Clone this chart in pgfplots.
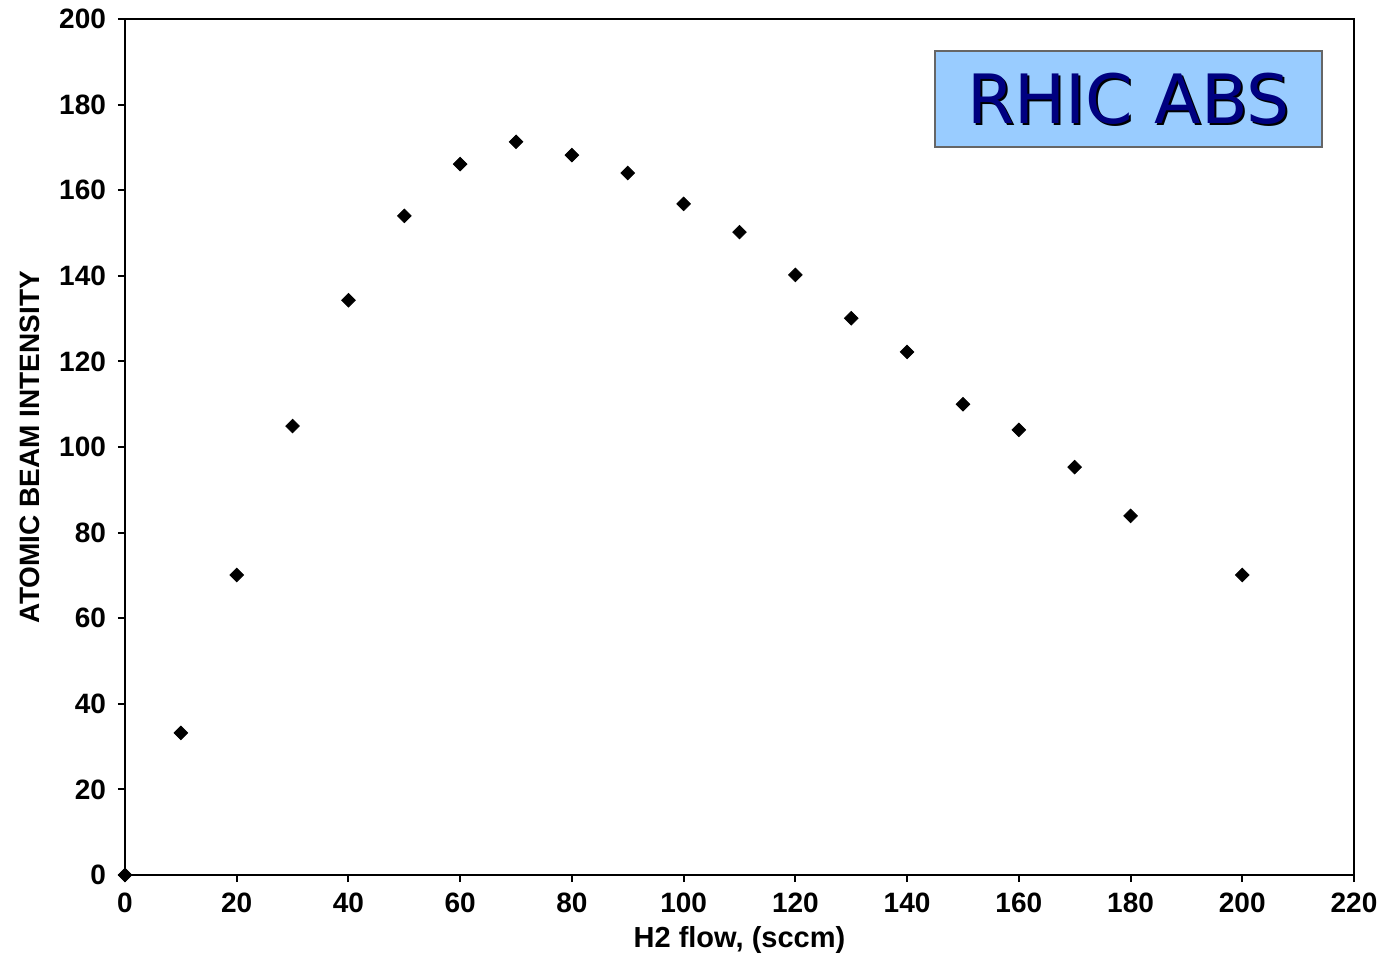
\documentclass[border=0pt]{standalone}
\usepackage{pgfplots}
\pgfplotsset{compat=1.18}
\usepackage{fontspec}
\setmainfont{Liberation Sans}
\newfontfamily\djv{DejaVu Sans}
\definecolor{boxblue}{HTML}{99CCFF}
\definecolor{navy}{HTML}{000080}
\begin{document}
\begin{tikzpicture}
\useasboundingbox (-62.5pt,-42pt) rectangle (630.5pt,437.5pt);
\begin{axis}[
  at={(0,0)}, anchor=south west,
  scale only axis, width=614.5pt, height=428pt,
  xmin=0, xmax=220, ymin=0, ymax=200,
  xtick={0,20,...,220}, ytick={0,20,...,200},
  tick align=outside, major tick length=3.5pt,
  xtick pos=bottom, ytick pos=left,
  axis line style={line width=1pt},
  tick style={line width=1pt, black},
  /pgf/number format/assume math mode=true,
  ticklabel style={font=\fontsize{14}{16}\selectfont\bfseries},
  xticklabel style={yshift=-2pt},
  yticklabel style={xshift=-2.5pt},
  xlabel={H2 flow, (sccm)},
  ylabel={ATOMIC BEAM INTENSITY},
  xlabel style={font=\fontsize{14.5}{17}\selectfont\bfseries, at={(axis description cs:0.5,0)}, anchor=center, yshift=-32.5pt},
  ylabel style={font=\fontsize{14}{17}\selectfont\bfseries, at={(axis description cs:0,0.5)}, anchor=center, yshift=47.5pt},
  clip=false,
]
\addplot[only marks, mark=square*, mark options={rotate=45}, mark size=2.4pt, black] coordinates {
(0,0) (10,33.2) (20,70.1) (30,104.9) (40,134.3) (50,154.0) (60,166.1) (70,171.3)
(80,168.2) (90,164.0) (100,156.8) (110,150.2) (120,140.2) (130,130.1) (140,122.2)
(150,110.0) (160,104.0) (170,95.3) (180,83.9) (200,70.1)
};
\end{axis}
\node[draw=black!60, fill=boxblue, minimum width=193.5pt, minimum height=48pt, inner sep=0pt, line width=0.6pt] at (501.75pt,388pt) {};
\node[text=black] at (502.75pt,387pt) {\djv\fontsize{34}{40}\selectfont RHIC ABS};
\node[text=navy] at (501.75pt,388pt) {\djv\fontsize{34}{40}\selectfont RHIC ABS};
\end{tikzpicture}
\end{document}
